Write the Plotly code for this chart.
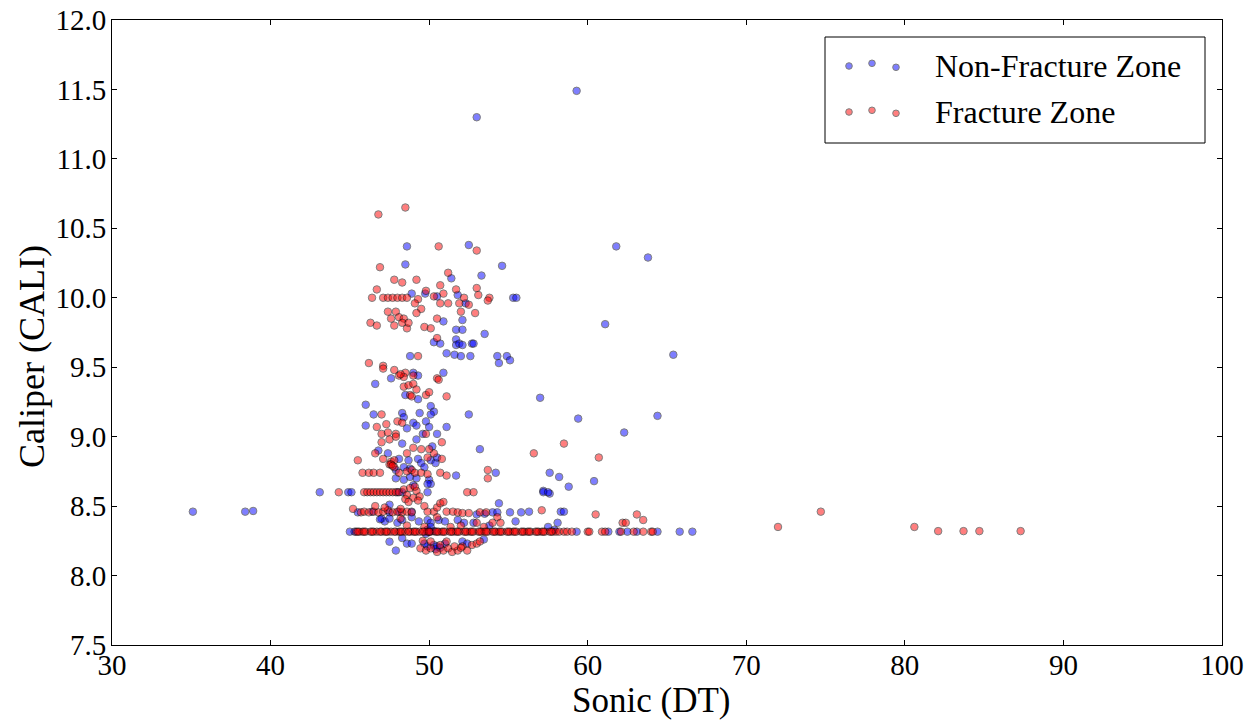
import plotly.graph_objects as go

# ---------------- data ----------------
nonfrac_x = [
    59.3, 53.0, 35.1, 38.4, 38.9, 43.1, 44.9, 45.1,
    61.8, 63.8, 61.1, 65.4, 64.4, 62.3, 59.4, 57.0,
    55.3, 55.5, 52.5, 48.6, 48.5, 51.4, 53.3, 54.6,
    48.9, 49.75, 50.5, 51.8, 52.3, 50.9, 52.1, 51.7, 52.1, 53.5,
    50.3, 50.7, 51.7, 51.7, 51.9, 52.1, 52.7, 52.8, 51.1, 51.6, 52.0, 52.6, 48.8, 54.3, 54.9, 54.4, 55.1,
    47.6, 49.3, 49.0, 50.9, 46.6, 48.5, 49.3, 46.0, 46.5, 48.3, 48.4, 49.4, 50.1, 50.3, 50.1, 52.5, 46.0,
    48.6, 49.0, 49.2, 49.8, 50.0, 51.1, 48.3, 49.2, 49.6, 50.2, 50.5, 46.8, 47.4,
    47.9, 48.1, 48.4, 48.7, 48.8, 49.3, 49.5, 49.7, 50.1, 50.4, 50.5,
    47.9, 48.4, 48.8, 49.2, 50.0, 50.1, 51.7, 53.2, 54.2,
    57.6, 58.2, 60.4, 58.8, 57.2, 57.6, 58.3, 58.5, 58.1, 57.5, 57.9,
    48.0, 48.3, 49.9, 49.0, 49.9, 57.2, 57.5, 54.4,
    45.5, 46.4, 47.5, 48.1, 48.9, 47.5, 47.0, 47.2,
    53.0, 53.5, 54.0, 54.3, 55.1, 55.8, 56.3,
    46.9, 47.5, 48.0, 48.3, 48.9, 49.35, 49.9, 50.1, 50.6, 51.0, 51.8, 52.2, 52.8, 53.8, 55.45,
    45.0, 45.3, 49.9, 50.1, 49.8, 50.3, 50.0, 59.3, 61.3, 62.5, 63.1, 64.4, 65.8, 66.6, 62.0,
    47.5, 47.9, 48.3, 48.6, 48.9, 49.9, 50.3, 50.5, 49.7, 51.0, 52.1, 53.45, 52.4, 50.4, 50.7,
]
nonfrac_y = [
    11.49, 11.30, 8.46, 8.46, 8.465, 8.60, 8.60, 8.60,
    10.37, 10.29, 9.81, 9.59, 9.15, 9.03, 9.13, 9.28,
    10.0, 10.0, 10.38, 10.37, 10.24, 10.14, 10.16, 10.23,
    10.03, 10.03, 10.01, 10.02, 9.96, 9.83, 9.84, 9.77, 9.77, 9.74,
    9.68, 9.67, 9.70, 9.66, 9.67, 9.66, 9.67, 9.67, 9.60, 9.59, 9.58, 9.58, 9.58, 9.58, 9.58, 9.53, 9.55,
    9.42, 9.44, 9.46, 9.46, 9.38, 9.30, 9.27, 9.23, 9.16, 9.17, 9.14, 9.17, 9.22, 9.18, 9.16, 9.16, 9.08,
    9.06, 9.10, 9.08, 9.11, 9.07, 9.07, 8.95, 8.98, 9.02, 8.93, 9.02, 8.90, 8.88,
    8.76, 8.84, 8.78, 8.83, 8.77, 8.84, 8.81, 8.78, 8.83, 8.81, 8.85,
    8.70, 8.69, 8.71, 8.70, 8.69, 8.66, 8.72, 8.91, 8.74,
    8.74, 8.71, 8.68, 8.64, 8.61, 8.59, 8.46, 8.46, 8.38, 8.35, 8.33,
    8.60, 8.60, 8.60, 8.65, 8.66, 8.60, 8.60, 8.52,
    8.455, 8.46, 8.455, 8.46, 8.46, 8.51, 8.41, 8.39,
    8.44, 8.445, 8.455, 8.455, 8.455, 8.455, 8.46,
    8.405, 8.41, 8.38, 8.40, 8.42, 8.39, 8.40, 8.38, 8.40, 8.39, 8.40, 8.38, 8.38, 8.36, 8.39,
    8.316, 8.316, 8.33, 8.35, 8.30, 8.32, 8.315, 8.316, 8.316, 8.316, 8.316, 8.316, 8.316, 8.316, 8.316,
    8.244, 8.18, 8.27, 8.23, 8.23, 8.21, 8.22, 8.21, 8.23, 8.23, 8.245, 8.26, 8.23, 8.19, 8.20,
]

frac_x = [
    46.8, 48.5, 50.6, 53.0, 46.9, 51.2, 47.8, 48.3, 49.2, 46.7, 46.4,
    47.1, 47.4, 47.7, 48.0, 48.3, 48.6, 49.3, 49.8, 50.7, 50.3, 50.9, 50.7, 51.2, 51.7, 52.2, 51.9, 52.5, 53.0, 53.1, 53.8, 53.7,
    49.1, 49.5, 49.2, 47.4, 47.6, 47.9, 48.1, 48.4, 48.6, 48.3, 47.8, 48.7, 46.3, 46.7, 49.7, 50.1, 50.5, 52.0, 52.9, 50.5, 49.3,
    46.2, 47.1, 47.1, 47.8, 48.1, 48.5, 50.5, 50.6, 48.4, 48.2, 49.0,
    48.4, 48.7, 49.0, 49.2, 48.8, 48.9, 49.8, 50.0, 51.1, 47.0,
    46.7, 47.3, 48.0, 48.3, 47.0, 47.4, 47.9, 47.0, 47.5, 47.9, 49.8, 50.8, 46.6,
    47.1, 47.6, 47.8, 47.5, 47.8, 47.6, 47.7, 48.6, 49.0, 49.5, 49.9, 50.3, 50.0, 50.8, 45.5,
    45.8, 46.2, 46.5, 46.9, 48.1, 48.6, 48.9, 49.1, 49.5, 49.9, 50.7, 51.1, 53.7, 53.7, 56.6, 58.5, 60.7,
    57.1, 60.5, 63.1, 63.5, 62.2, 62.4, 72.0, 74.7, 80.6, 82.1, 83.7, 84.7, 87.3,
    44.3, 45.9, 46.1, 46.3, 46.5, 46.7, 46.9, 47.1, 47.3, 47.5, 47.7, 47.9, 48.1,
    48.4, 48.6, 48.8, 49.0, 49.2, 49.4, 48.5, 49.1, 48.7, 49.3, 52.4, 52.8,
    45.2, 45.7, 45.9, 46.2, 46.5, 46.8, 47.1, 47.4, 47.7, 48.0, 48.3, 48.6, 48.9, 46.6, 47.2, 48.2,
    49.7, 49.9, 50.3, 50.5, 50.7, 50.9, 51.1, 51.5, 51.8, 52.1, 52.5, 53.2, 53.6, 54.3,
    48.2, 48.6, 49.7, 50.5, 51.35, 52.0, 53.0, 53.45, 54.0, 54.5,
    45.4, 45.6, 45.8, 46.0, 46.3, 46.5, 46.7, 47.0, 47.2, 47.4, 47.6, 47.9, 48.1, 48.3, 48.5,
    48.8, 49.0, 49.2, 49.4, 49.7, 49.9, 50.1, 50.4, 50.6, 50.8, 51.0, 51.3, 51.5, 51.7, 51.9,
    52.2, 52.4, 52.6, 52.8, 53.1, 53.3, 53.5, 53.7, 54.0, 54.2, 54.4, 54.6, 54.9, 55.1, 55.3,
    55.5, 55.8, 56.0, 56.2, 56.4, 56.7, 56.9, 57.1, 57.3, 57.6, 57.8, 58.0, 58.2, 58.5, 58.7,
    59.0, 60.0, 60.1, 60.9, 61.1, 62.1, 62.9, 63.5, 64.0, 64.1,
    45.5, 45.9, 46.4, 46.9, 47.3, 47.8, 48.2, 48.7, 49.1, 49.6, 50.0, 50.5, 50.9, 51.4, 51.8,
    52.3, 52.7, 53.2, 53.6, 54.1, 54.5, 55.0, 55.4, 55.9, 56.3, 56.8, 57.2, 57.7,
    49.45, 49.8, 50.1, 50.5, 50.9, 51.2, 51.45, 51.8, 52.1, 52.4, 52.7, 53.0, 53.2, 50.1, 51.1, 50.7, 49.6, 52.0, 51.6,
]
frac_y = [
    10.6, 10.65, 10.37, 10.34, 10.22, 10.18, 10.13, 10.11, 10.13, 10.06, 10.0,
    10.0, 10.0, 10.0, 10.0, 10.0, 10.0, 9.99, 10.05, 10.09, 10.01, 10.03, 9.96, 9.96, 10.06, 10.0, 9.96, 9.95, 10.07, 10.02, 10.0, 9.98,
    9.96, 9.92, 9.89, 9.90, 9.85, 9.90, 9.86, 9.85, 9.78, 9.82, 9.80, 9.82, 9.82, 9.80, 9.79, 9.78, 9.85, 9.90, 9.89, 9.71, 9.58,
    9.53, 9.51, 9.49, 9.48, 9.44, 9.46, 9.42, 9.41, 9.43, 9.45, 9.44,
    9.36, 9.37, 9.38, 9.34, 9.30, 9.29, 9.30, 9.32, 9.29, 9.16,
    9.07, 9.09, 9.11, 9.10, 9.02, 9.03, 9.02, 8.96, 8.98, 9.0, 9.02, 8.96, 8.88,
    8.84, 8.82, 8.78, 8.80, 8.83, 8.80, 8.79, 8.88, 8.92, 8.91, 8.85, 8.88, 8.91, 8.84, 8.83,
    8.74, 8.74, 8.74, 8.74, 8.74, 8.75, 8.76, 8.74, 8.74, 8.73, 8.74, 8.72, 8.76, 8.70, 8.88, 8.95, 8.85,
    8.47, 8.44, 8.44, 8.40, 8.38, 8.38, 8.35, 8.46, 8.35, 8.32, 8.32, 8.32, 8.32,
    8.60, 8.60, 8.60, 8.60, 8.60, 8.60, 8.60, 8.60, 8.60, 8.60, 8.60, 8.60, 8.60,
    8.62, 8.58, 8.63, 8.56, 8.61, 8.57, 8.55, 8.64, 8.53, 8.54, 8.60, 8.60,
    8.48, 8.455, 8.46, 8.455, 8.46, 8.455, 8.46, 8.47, 8.455, 8.46, 8.455, 8.46, 8.455, 8.50, 8.49, 8.48,
    8.50, 8.46, 8.46, 8.49, 8.52, 8.53, 8.46, 8.46, 8.455, 8.45, 8.45, 8.455, 8.455, 8.42,
    8.41, 8.36, 8.35, 8.42, 8.35, 8.36, 8.38, 8.35, 8.38, 8.38,
    8.316, 8.316, 8.316, 8.316, 8.316, 8.316, 8.316, 8.316, 8.316, 8.316, 8.316, 8.316, 8.316, 8.316, 8.316,
    8.316, 8.316, 8.316, 8.316, 8.316, 8.316, 8.316, 8.316, 8.316, 8.316, 8.316, 8.316, 8.316, 8.316, 8.316,
    8.316, 8.316, 8.316, 8.316, 8.316, 8.316, 8.316, 8.316, 8.316, 8.316, 8.316, 8.316, 8.316, 8.316, 8.316,
    8.316, 8.316, 8.316, 8.316, 8.316, 8.316, 8.316, 8.316, 8.316, 8.316, 8.316, 8.316, 8.316, 8.316, 8.316,
    8.316, 8.316, 8.316, 8.316, 8.316, 8.316, 8.316, 8.316, 8.316, 8.316,
    8.316, 8.316, 8.316, 8.316, 8.316, 8.316, 8.316, 8.316, 8.316, 8.316, 8.316, 8.316, 8.316, 8.316, 8.316,
    8.316, 8.316, 8.316, 8.316, 8.316, 8.316, 8.316, 8.316, 8.316, 8.316, 8.316, 8.316, 8.316,
    8.196, 8.18, 8.196, 8.17, 8.18, 8.196, 8.17, 8.18, 8.21, 8.18, 8.22, 8.23, 8.245, 8.245, 8.245, 8.22, 8.25, 8.20, 8.21,
]

series_names = ["Non-Fracture Zone", "Fracture Zone"]
x_ticks = [30, 40, 50, 60, 70, 80, 90, 100]
y_ticks = [7.5, 8.0, 8.5, 9.0, 9.5, 10.0, 10.5, 11.0, 11.5, 12.0]

# ---------------- figure ----------------
FONT = "Liberation Serif, Times New Roman, serif"
PAGE_OFF = 8            # default body margin of the html page
W, H = 1249, 715        # figure size so that it fits in the 1257x723 window
L, T = 104, 12
PW, PH = 1110, 625
R, B = W - L - PW, H - T - PH

def px(xp):
    """window pixel x -> paper coordinate"""
    return (xp - PAGE_OFF - L) / PW

def py(yp):
    """window pixel y -> paper coordinate"""
    return (T + PH - (yp - PAGE_OFF)) / PH

fig = go.Figure()
fig.add_trace(go.Scatter(
    x=nonfrac_x, y=nonfrac_y, mode="markers", name=series_names[0],
    marker=dict(size=7.5, color="blue", opacity=0.5, line=dict(color="black", width=1)),
    showlegend=False,
))
fig.add_trace(go.Scatter(
    x=frac_x, y=frac_y, mode="markers", name=series_names[1],
    marker=dict(size=7.5, color="red", opacity=0.5, line=dict(color="black", width=1)),
    showlegend=False,
))

axis_common = dict(
    showgrid=False, zeroline=False, showline=True, linecolor="black", linewidth=1,
    mirror="allticks", ticks="inside", ticklen=5, tickcolor="black", tickwidth=1,
    tickfont=dict(family=FONT, size=29, color="black"),
    ticklabeloverflow="allow",
)
fig.update_xaxes(range=[30, 100], tickvals=x_ticks, ticktext=[str(v) for v in x_ticks],
                 ticklabelstandoff=-6, **axis_common)
fig.update_yaxes(range=[7.5, 12.0], tickvals=y_ticks, ticktext=[f"{v:.1f}" for v in y_ticks],
                 ticklabelstandoff=-1, **axis_common)

shapes = []
annotations = []
# legend box (matplotlib-style, three scatter points per entry)
shapes.append(dict(type="rect", xref="paper", yref="paper",
                   x0=px(825), x1=px(1205), y0=py(37), y1=py(143),
                   line=dict(color="black", width=1), fillcolor="white", layer="above"))
legend_rows = [(66, [0, -2.7, 1.3], "blue"), (112, [0, -1.7, 1.3], "red")]
for (cy, offs, col), name in zip(legend_rows, series_names):
    for cx, off in zip([849, 872, 896], offs):
        r = 3.3
        shapes.append(dict(type="circle", xref="paper", yref="paper",
                           x0=px(cx - r), x1=px(cx + r), y0=py(cy + off + r), y1=py(cy + off - r),
                           fillcolor=col, opacity=0.5, line=dict(color="black", width=1), layer="above"))
    annotations.append(dict(text=name, xref="paper", yref="paper", x=px(933), y=py(cy),
                            xanchor="left", yanchor="middle", showarrow=False,
                            font=dict(family=FONT, size=32, color="black")))

annotations.append(dict(text="Sonic (DT)", xref="paper", yref="paper", x=px(651), y=py(701),
                        xanchor="center", yanchor="middle", showarrow=False,
                        font=dict(family=FONT, size=35, color="black")))
annotations.append(dict(text="Caliper (CALI)", xref="paper", yref="paper", x=px(32), y=py(357),
                        xanchor="center", yanchor="middle", showarrow=False, textangle=-90,
                        font=dict(family=FONT, size=36, color="black")))

fig.update_layout(
    width=W, height=H,
    margin=dict(l=L, r=R, t=T, b=B, autoexpand=False),
    plot_bgcolor="white", paper_bgcolor="white",
    shapes=shapes, annotations=annotations,
    showlegend=False,
)

fig.write_html("out.html")
